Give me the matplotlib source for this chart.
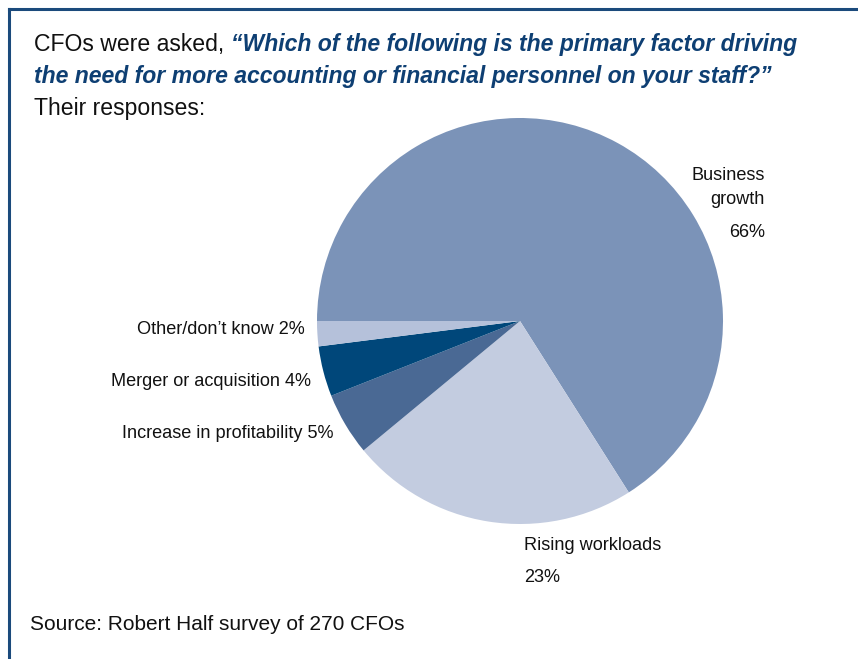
import matplotlib
matplotlib.use("Agg")
import matplotlib.pyplot as plt
from matplotlib.lines import Line2D

plt.rcParams['font.family'] = ['Liberation Sans', 'DejaVu Sans']

# Survey responses (percent of CFOs)
categories = ["Business growth", "Rising workloads", "Increase in profitability",
              "Merger or acquisition", "Other/don\u2019t know"]
shares = [66, 23, 5, 4, 2]
colors = ["#7B93B8", "#C3CCE0", "#4A6994", "#00477A", "#B5C1DA"]

W, H = 858, 659
fig = plt.figure(figsize=(W / 100, H / 100), dpi=100)
fig.patch.set_facecolor("white")

def fx(px):
    return px / W

def fy(py):
    return 1 - py / H

# Frame lines (top and left)
navy = "#1B4A7C"
fig.add_artist(Line2D([fx(9), fx(858)], [fy(9), fy(9)], color=navy, lw=2.2))
fig.add_artist(Line2D([fx(9), fx(9)], [fy(9), fy(659)], color=navy, lw=2.2))

# Pie axes: center (520, 321), radius 203 px
cx, cy, r = 520, 321, 203
ax = fig.add_axes([fx(cx - r), fy(cy + r), 2 * r / W, 2 * r / H])
ax.pie(shares, colors=colors, startangle=180, counterclock=False,
       radius=1.0, wedgeprops=dict(linewidth=0))
ax.set_xlim(-1, 1)
ax.set_ylim(-1, 1)
ax.set_aspect("auto")
ax.axis("off")

# Heading
fs_head = 16.6
blue = "#0E3F73"
t1 = fig.text(fx(34), fy(45), "CFOs were asked, ", fontsize=fs_head, color="#111111",
              ha="left", va="center")
fig.canvas.draw()
bb = t1.get_window_extent()
fig.text(bb.x1 / W, fy(45), "\u201cWhich of the following is the primary factor driving",
         fontsize=fs_head, color=blue, fontweight="bold", fontstyle="italic",
         ha="left", va="center")
fig.text(fx(34), fy(76), "the need for more accounting or financial personnel on your staff?\u201d",
         fontsize=fs_head, color=blue, fontweight="bold", fontstyle="italic",
         ha="left", va="center")
fig.text(fx(34), fy(108), "Their responses:", fontsize=fs_head, color="#111111",
         ha="left", va="center")

# Slice labels
fs_lab = 13.1
lab = "#111111"
fig.text(fx(765), fy(176), "Business", fontsize=fs_lab, color=lab, ha="right", va="center")
fig.text(fx(765), fy(199), "growth", fontsize=fs_lab, color=lab, ha="right", va="center")
fig.text(fx(765), fy(232), f"{shares[0]}%", fontsize=fs_lab, color=lab, ha="right", va="center")

fig.text(fx(524), fy(546), categories[1], fontsize=fs_lab, color=lab, ha="left", va="center")
fig.text(fx(524), fy(578), f"{shares[1]}%", fontsize=fs_lab, color=lab, ha="left", va="center")

fig.text(fx(333), fy(434), f"{categories[2]} {shares[2]}%", fontsize=fs_lab, color=lab,
         ha="right", va="center")
fig.text(fx(311), fy(381), f"{categories[3]} {shares[3]}%", fontsize=fs_lab, color=lab,
         ha="right", va="center")
fig.text(fx(305), fy(330), f"{categories[4]} {shares[4]}%", fontsize=fs_lab, color=lab,
         ha="right", va="center")

# Source line
fig.text(fx(30), fy(624), "Source: Robert Half survey of 270 CFOs", fontsize=15,
         color="#111111", ha="left", va="center")

fig.savefig("out.png", dpi=100, facecolor="white")
